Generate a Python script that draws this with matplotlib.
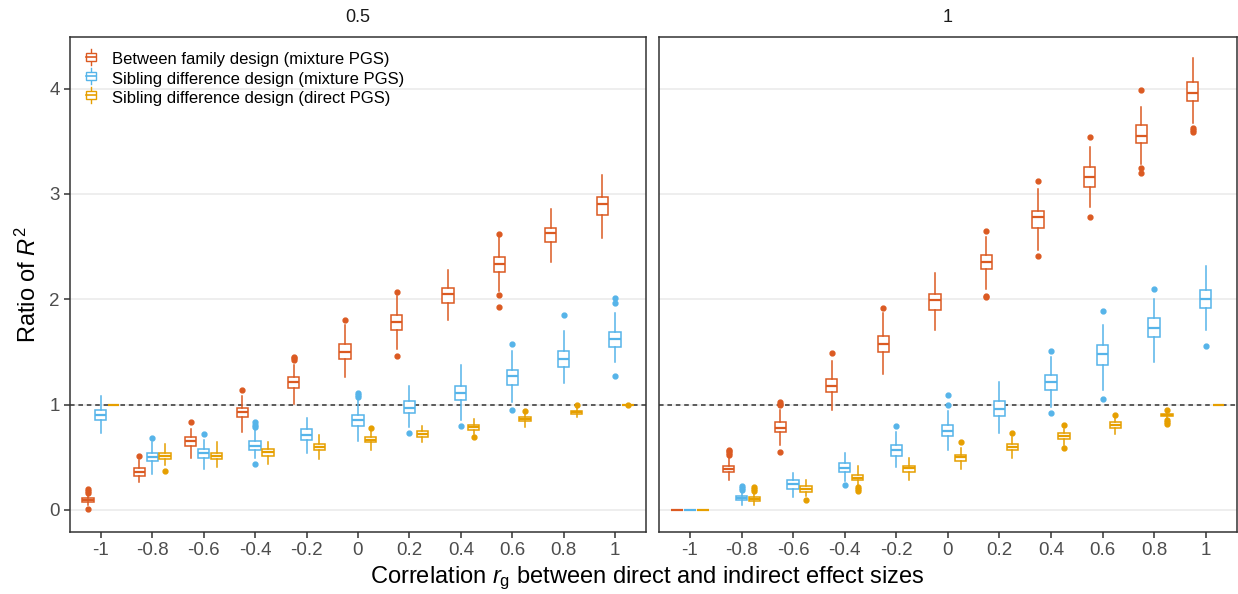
import matplotlib
matplotlib.use("Agg")
import matplotlib.pyplot as plt
from matplotlib.legend_handler import HandlerBase
from matplotlib.patches import Rectangle
from matplotlib.lines import Line2D

plt.rcParams['font.family'] = ['Liberation Sans', 'DejaVu Sans']
plt.rcParams['mathtext.fontset'] = 'custom'
plt.rcParams['mathtext.rm'] = 'Liberation Sans'
plt.rcParams['mathtext.it'] = 'Liberation Sans:italic'

rg_labels = ['-1', '-0.8', '-0.6', '-0.4', '-0.2', '0', '0.2', '0.4', '0.6', '0.8', '1']
panel_labels = ['0.5', '1']
series_names = ['Between family design (mixture PGS)',
                'Sibling difference design (mixture PGS)',
                'Sibling difference design (direct PGS)']
colors = ['#DB5A22', '#56B4E9', '#E69F00']

# ---- panel 0.5 ----
p05_between_med = [0.09, 0.36, 0.65, 0.93, 1.215, 1.50, 1.78, 2.05, 2.33, 2.63, 2.90]
p05_between_q1 = [0.07, 0.325, 0.61, 0.88, 1.16, 1.43, 1.71, 1.96, 2.26, 2.54, 2.80]
p05_between_q3 = [0.11, 0.40, 0.69, 0.97, 1.265, 1.575, 1.85, 2.11, 2.40, 2.68, 2.97]
p05_between_lo = [0.05, 0.26, 0.49, 0.735, 1.01, 1.26, 1.53, 1.80, 2.08, 2.355, 2.58]
p05_between_hi = [0.13, 0.47, 0.77, 1.08, 1.38, 1.76, 2.03, 2.275, 2.59, 2.86, 3.18]
p05_between_out = [[0.16, 0.18, 0.195, 0.01], [0.51], [0.83], [1.135], [1.42, 1.44, 1.455],
                   [1.80], [2.07, 1.46], [], [2.62, 2.04, 1.93], [], []]

p05_sibmix_med = [0.90, 0.50, 0.54, 0.61, 0.71, 0.85, 0.97, 1.11, 1.27, 1.43, 1.62]
p05_sibmix_q1 = [0.85, 0.46, 0.49, 0.57, 0.66, 0.795, 0.92, 1.04, 1.19, 1.36, 1.55]
p05_sibmix_q3 = [0.95, 0.54, 0.58, 0.65, 0.77, 0.90, 1.035, 1.18, 1.33, 1.51, 1.69]
p05_sibmix_lo = [0.73, 0.34, 0.39, 0.49, 0.54, 0.65, 0.79, 0.85, 1.025, 1.20, 1.40]
p05_sibmix_hi = [1.08, 0.64, 0.66, 0.77, 0.87, 1.05, 1.18, 1.38, 1.506, 1.70, 1.87]
p05_sibmix_out = [[], [0.685], [0.72], [0.79, 0.81, 0.83, 0.435], [], [1.07, 1.09, 1.11],
                  [0.73], [0.80], [1.576, 0.95], [1.85], [2.01, 1.965, 1.27]]

p05_sibdir_med = [1.0, 0.51, 0.51, 0.545, 0.60, 0.66, 0.725, 0.79, 0.86, 0.93, 1.0]
p05_sibdir_q1 = [1.0, 0.48, 0.48, 0.51, 0.57, 0.64, 0.69, 0.76, 0.84, 0.91, 1.0]
p05_sibdir_q3 = [1.0, 0.54, 0.54, 0.575, 0.63, 0.69, 0.75, 0.81, 0.88, 0.94, 1.0]
p05_sibdir_lo = [1.0, 0.43, 0.41, 0.44, 0.48, 0.57, 0.64, 0.725, 0.79, 0.88, 1.0]
p05_sibdir_hi = [1.0, 0.63, 0.64, 0.64, 0.71, 0.76, 0.80, 0.86, 0.915, 0.98, 1.0]
p05_sibdir_out = [[], [0.37], [], [], [], [0.78], [], [0.69], [0.94], [1.0], [1.0]]

# ---- panel 1 ----
p1_between_med = [0.0, 0.39, 0.78, 1.18, 1.575, 1.99, 2.35, 2.78, 3.165, 3.55, 3.96]
p1_between_q1 = [0.0, 0.356, 0.735, 1.115, 1.495, 1.90, 2.285, 2.675, 3.07, 3.48, 3.885]
p1_between_q3 = [0.0, 0.42, 0.83, 1.24, 1.65, 2.05, 2.42, 2.84, 3.26, 3.65, 4.06]
p1_between_lo = [0.0, 0.28, 0.615, 0.95, 1.29, 1.71, 2.095, 2.465, 2.88, 3.28, 3.675]
p1_between_hi = [0.0, 0.50, 0.95, 1.41, 1.87, 2.25, 2.59, 3.05, 3.45, 3.83, 4.29]
p1_between_out = [[], [0.52, 0.54, 0.555, 0.57], [1.0, 1.01, 1.025, 0.545], [1.49], [1.92], [],
                  [2.65, 2.02, 2.03], [3.12, 2.41], [3.54, 2.78], [3.99, 3.245, 3.20], [3.59, 3.61, 3.63]]

p1_sibmix_med = [0.0, 0.117, 0.243, 0.40, 0.565, 0.75, 0.96, 1.21, 1.476, 1.73, 2.0]
p1_sibmix_q1 = [0.0, 0.095, 0.20, 0.356, 0.51, 0.70, 0.89, 1.14, 1.375, 1.645, 1.917]
p1_sibmix_q3 = [0.0, 0.135, 0.28, 0.445, 0.615, 0.81, 1.035, 1.28, 1.565, 1.82, 2.09]
p1_sibmix_lo = [0.0, 0.05, 0.12, 0.27, 0.41, 0.57, 0.73, 0.98, 1.135, 1.405, 1.71]
p1_sibmix_hi = [0.0, 0.17, 0.35, 0.54, 0.74, 0.94, 1.215, 1.45, 1.755, 2.0, 2.32]
p1_sibmix_out = [[], [0.19, 0.21, 0.23], [], [0.235], [0.80], [1.0, 1.09], [],
                 [1.505, 0.92], [1.89, 1.057], [2.095], [1.56]]

p1_sibdir_med = [0.0, 0.104, 0.20, 0.305, 0.395, 0.50, 0.60, 0.70, 0.805, 0.90, 1.0]
p1_sibdir_q1 = [0.0, 0.082, 0.167, 0.28, 0.36, 0.467, 0.568, 0.67, 0.78, 0.89, 1.0]
p1_sibdir_q3 = [0.0, 0.126, 0.23, 0.33, 0.42, 0.525, 0.63, 0.73, 0.83, 0.915, 1.0]
p1_sibdir_lo = [0.0, 0.047, 0.13, 0.24, 0.28, 0.39, 0.495, 0.62, 0.72, 0.877, 1.0]
p1_sibdir_hi = [0.0, 0.16, 0.28, 0.42, 0.49, 0.59, 0.69, 0.77, 0.87, 0.93, 1.0]
p1_sibdir_out = [[], [0.18, 0.195, 0.215], [0.095], [0.18, 0.20, 0.215], [], [0.64], [0.73],
                 [0.81, 0.585], [0.90], [0.95, 0.815, 0.83, 0.85], []]

panels = [
    [(p05_between_med, p05_between_q1, p05_between_q3, p05_between_lo, p05_between_hi, p05_between_out),
     (p05_sibmix_med, p05_sibmix_q1, p05_sibmix_q3, p05_sibmix_lo, p05_sibmix_hi, p05_sibmix_out),
     (p05_sibdir_med, p05_sibdir_q1, p05_sibdir_q3, p05_sibdir_lo, p05_sibdir_hi, p05_sibdir_out)],
    [(p1_between_med, p1_between_q1, p1_between_q3, p1_between_lo, p1_between_hi, p1_between_out),
     (p1_sibmix_med, p1_sibmix_q1, p1_sibmix_q3, p1_sibmix_lo, p1_sibmix_hi, p1_sibmix_out),
     (p1_sibdir_med, p1_sibdir_q1, p1_sibdir_q3, p1_sibdir_lo, p1_sibdir_hi, p1_sibdir_out)],
]


class BoxKey(HandlerBase):
    # little boxplot glyph for the legend, like ggplot's key
    def create_artists(self, legend, orig_handle, x0, y0, width, height, fontsize, trans):
        c = orig_handle.get_color()
        cx = x0 + width / 2
        bw = width * 0.8
        bh = height * 0.6
        by = y0 + (height - bh) / 2
        whisk = Line2D([cx, cx], [y0 - height * 0.1, y0 + height * 1.1], color=c, lw=1, transform=trans)
        box = Rectangle((cx - bw / 2, by), bw, bh, facecolor='white', edgecolor=c, lw=1, transform=trans)
        med = Line2D([cx - bw / 2, cx + bw / 2], [y0 + height / 2] * 2, color=c, lw=1.2, transform=trans)
        return [whisk, box, med]


fig = plt.figure(figsize=(12.38, 5.94), dpi=100)
ax_l = fig.add_axes([0.0565, 0.1044, 0.4653, 0.8333])
ax_r = fig.add_axes([0.5323, 0.1044, 0.4666, 0.8333])
offsets = [-0.25, 0.0, 0.25]
xpos = list(range(1, len(rg_labels) + 1))

for ax, series, plab in zip([ax_l, ax_r], panels, panel_labels):
    ax.axhline(1, color='#333333', ls=(0, (3, 2.5)), lw=1.1, zorder=1.5)
    for s, (med, q1, q3, lo, hi, out) in enumerate(series):
        c = colors[s]
        stats = []
        for i in range(len(rg_labels)):
            stats.append(dict(med=med[i], q1=q1[i], q3=q3[i], whislo=lo[i], whishi=hi[i], fliers=out[i]))
        ax.bxp(stats, positions=[x + offsets[s] for x in xpos], widths=0.22,
               showcaps=False, patch_artist=True, manage_ticks=False,
               boxprops=dict(facecolor='white', edgecolor=c, lw=1.1),
               medianprops=dict(color=c, lw=1.6),
               whiskerprops=dict(color=c, lw=1.1),
               flierprops=dict(marker='o', markerfacecolor=c, markeredgecolor=c, markersize=3.5, ls='none'),
               zorder=3)
    ax.set_xlim(0.4, 11.6)
    ax.set_ylim(-0.21, 4.49)
    ax.set_xticks(xpos)
    ax.set_xticklabels(rg_labels)
    ax.set_yticks([0, 1, 2, 3, 4])
    ax.grid(axis='y', color='#EBEBEB', lw=1.2, zorder=0)
    ax.set_axisbelow(True)
    for sp in ax.spines.values():
        sp.set_color('#333333')
        sp.set_linewidth(1.1)
    ax.tick_params(axis='both', labelsize=13.5, colors='#333333', labelcolor='#4D4D4D', length=4, width=1.1)
    ax.set_title(plab, fontsize=13, color='#1A1A1A', pad=11)

ax_r.tick_params(axis='y', length=0, labelleft=False)

ax_l.set_ylabel('Ratio of $R^2$', fontsize=17, color='black', labelpad=6)
fig.text(0.523, 0.027, r'Correlation $r_{\mathrm{g}}$ between direct and indirect effect sizes',
         ha='center', va='center', fontsize=17)

handles = [Line2D([], [], color=c) for c in colors]
ax_l.legend(handles, series_names, loc='upper left', bbox_to_anchor=(0.0, 1.0), frameon=False,
            fontsize=12, handler_map={Line2D: BoxKey()}, handlelength=0.75, handleheight=0.85,
            handletextpad=0.85, labelspacing=0.22, borderaxespad=0.5)

fig.savefig('out.png', dpi=100, facecolor='white')
